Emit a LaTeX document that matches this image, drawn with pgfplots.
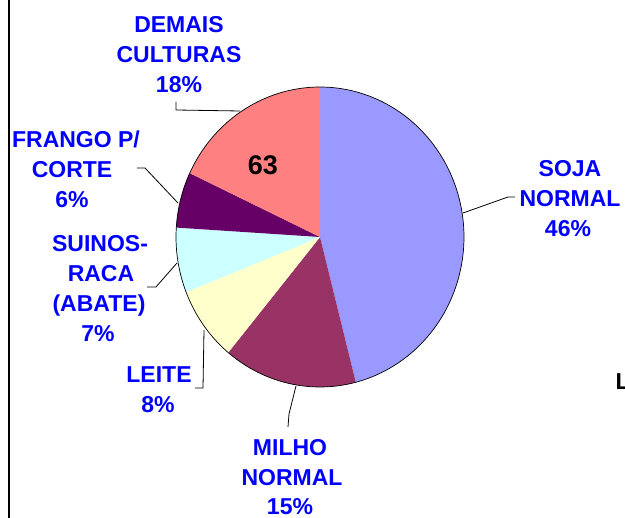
\documentclass[border=0pt]{standalone}
\usepackage{pgfplots}
\pgfplotsset{compat=1.18}
\usepackage{fontspec}
\setmainfont{Liberation Sans}
\definecolor{soja}{HTML}{9999FF}
\definecolor{milho}{HTML}{993366}
\definecolor{leite}{HTML}{FFFFCC}
\definecolor{suinos}{HTML}{CCFFFF}
\definecolor{frango}{HTML}{660066}
\definecolor{demais}{HTML}{FF8080}
\definecolor{lblue}{HTML}{0000FF}
\tikzset{lbl/.style={font=\fontsize{23}{30}\selectfont\bfseries, text=lblue, inner sep=0pt, anchor=base}}
\begin{document}
\begin{tikzpicture}
\path[use as bounding box, clip] (0,0) rectangle (625pt,518pt);
\begin{axis}[
  at={(0,0)}, anchor=south west,
  width=625pt, height=518pt, scale only axis,
  xmin=0, xmax=625, ymin=0, ymax=518, y dir=reverse,
  hide axis, clip=false,
]
% slices (percent: Soja 46, Milho 15, Leite 8, Suinos 7, Frango 6, Demais 18), clockwise from 12 o'clock
\addplot[fill=soja, draw=none, domain=-75.6:90, samples=80, variable=\t] ({320+144*cos(t)},{237-150*sin(t)}) -- (axis cs:320,237) -- cycle;
\addplot[fill=milho, draw=none, domain=-129.6:-75.6, samples=40, variable=\t] ({320+144*cos(t)},{237-150*sin(t)}) -- (axis cs:320,237) -- cycle;
\addplot[fill=leite, draw=none, domain=-158.4:-129.6, samples=30, variable=\t] ({320+144*cos(t)},{237-150*sin(t)}) -- (axis cs:320,237) -- cycle;
\addplot[fill=suinos, draw=none, domain=-183.6:-158.4, samples=30, variable=\t] ({320+144*cos(t)},{237-150*sin(t)}) -- (axis cs:320,237) -- cycle;
\addplot[fill=frango, draw=none, domain=-205.2:-183.6, samples=30, variable=\t] ({320+144*cos(t)},{237-150*sin(t)}) -- (axis cs:320,237) -- cycle;
\addplot[fill=demais, draw=none, domain=-270:-205.2, samples=50, variable=\t] ({320+144*cos(t)},{237-150*sin(t)}) -- (axis cs:320,237) -- cycle;
% outline
\addplot[draw=black, line width=0.7pt, domain=0:360, samples=200, variable=\t] ({320+144*cos(t)},{237-150*sin(t)});
% left frame line
\draw[black, line width=2pt] (axis cs:9,-5) -- (axis cs:9,525);
% leader lines
\draw[black, line width=0.8pt] (axis cs:176,102) -- (axis cs:176,110) -- (axis cs:240,111);
\draw[black, line width=0.8pt] (axis cs:137,168) -- (axis cs:145,168) -- (axis cs:178,203);
\draw[black, line width=0.8pt] (axis cs:147,287) -- (axis cs:156,287) -- (axis cs:177,263);
\draw[black, line width=0.8pt] (axis cs:195,388) -- (axis cs:203,388) -- (axis cs:204,330);
\draw[black, line width=0.8pt] (axis cs:288,427) -- (axis cs:289,414) -- (axis cs:296,386);
\draw[black, line width=0.8pt] (axis cs:515,197) -- (axis cs:508,197) -- (axis cs:463,213);
% labels
\node[lbl] at (axis cs:179,33) {DEMAIS};
\node[lbl] at (axis cs:179,63) {CULTURAS};
\node[lbl] at (axis cs:179,93) {18\%};
\node[lbl] at (axis cs:76,148) {FRANGO P/};
\node[lbl] at (axis cs:72,178) {CORTE};
\node[lbl] at (axis cs:72,208) {6\%};
\node[lbl] at (axis cs:100,252) {SUINOS-};
\node[lbl] at (axis cs:101,282) {RACA};
\node[lbl] at (axis cs:99,312) {(ABATE)};
\node[lbl] at (axis cs:98,342) {7\%};
\node[lbl] at (axis cs:159,383) {LEITE};
\node[lbl] at (axis cs:158,413) {8\%};
\node[lbl] at (axis cs:290,456) {MILHO};
\node[lbl] at (axis cs:292,486) {NORMAL};
\node[lbl] at (axis cs:290,515) {15\%};
\node[lbl] at (axis cs:570,177) {SOJA};
\node[lbl] at (axis cs:570,207) {NORMAL};
\node[lbl] at (axis cs:568,237) {46\%};
\node[lbl, text=black, font=\fontsize{27}{30}\selectfont\bfseries] at (axis cs:263,175) {63};
\node[lbl, anchor=base west, text=black] at (axis cs:615.5,390) {L};
\end{axis}
\end{tikzpicture}
\end{document}
